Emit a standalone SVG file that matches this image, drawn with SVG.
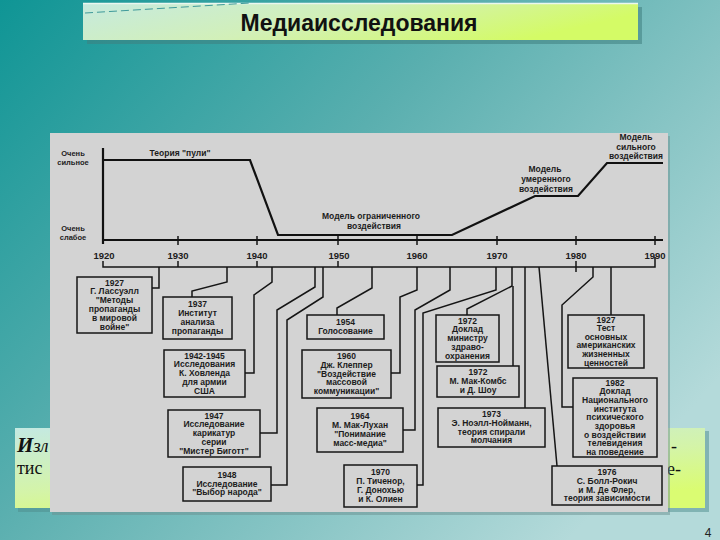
<svg xmlns="http://www.w3.org/2000/svg" width="720" height="540" viewBox="0 0 720 540">
<defs>
<linearGradient id="bg" x1="0" y1="0" x2="1" y2="0.7">
<stop offset="0" stop-color="#0f9595"/>
<stop offset="0.45" stop-color="#5aafaf"/>
<stop offset="1" stop-color="#b4dada"/>
</linearGradient>
<linearGradient id="tg" x1="0" y1="0" x2="1" y2="0.3">
<stop offset="0" stop-color="#c6eadf"/>
<stop offset="0.5" stop-color="#d2f0b8"/>
<stop offset="1" stop-color="#d4fb66"/>
</linearGradient>
<linearGradient id="gg" x1="0" y1="0" x2="0.6" y2="1">
<stop offset="0" stop-color="#c4e9e2"/>
<stop offset="0.6" stop-color="#d4f4a8"/>
<stop offset="1" stop-color="#dafc72"/>
</linearGradient>
<style>
.ln{fill:none;stroke:#151515;stroke-width:1.5;stroke-linejoin:miter}
.cl{fill:none;stroke:#111;stroke-width:2.2}
.bx{fill:none;stroke:#161616;stroke-width:1.5}
.t{font-family:"Liberation Sans",Arial,sans-serif;font-size:8.5px;font-weight:700;fill:#1c1c1c;text-anchor:middle}
.yr{font-family:"Liberation Sans",Arial,sans-serif;font-size:9.5px;font-weight:700;fill:#1c1c1c;text-anchor:middle}
.lb{font-family:"Liberation Sans",Arial,sans-serif;font-size:8.5px;font-weight:700;fill:#1c1c1c;text-anchor:middle}
.ys{font-family:"Liberation Sans",Arial,sans-serif;font-size:7.5px;font-weight:700;fill:#1c1c1c;text-anchor:middle}
.sv{font-family:"Liberation Serif","Times New Roman",serif;fill:#111}
</style>
</defs>
<rect width="720" height="540" fill="url(#bg)"/>

<!-- title -->
<g id="title">
<rect x="87" y="7" width="555" height="37" fill="#3f7f80" opacity="0.55"/>
<rect x="83" y="3" width="555" height="37" fill="url(#tg)"/>
<line x1="83" y1="3.5" x2="638" y2="3.5" stroke="#eaf7f0" stroke-width="1.5"/>
<line x1="85" y1="13" x2="250" y2="3" stroke="#3f9a9a" stroke-width="1" stroke-dasharray="8,4"/>
<text x="359" y="31" font-family="'Liberation Sans',Arial,sans-serif" font-size="23" font-weight="700" fill="#111" text-anchor="middle">Медиаисследования</text>
</g>

<!-- text box behind the picture -->
<g id="textbox">
<rect x="18" y="431" width="691" height="81" fill="#4d8c8c" opacity="0.5"/>
<rect x="15" y="428" width="690" height="80" fill="url(#gg)"/>
<text x="17" y="452" class="sv" font-size="21" font-style="italic" font-weight="700">И<tspan font-size="19" font-weight="400">зл</tspan></text>
<text x="17" y="474" class="sv" font-size="18">тис</text>
<text x="671" y="452" class="sv" font-size="18">-</text>
<text x="667" y="475" class="sv" font-size="18">е-</text>
</g>

<!-- picture panel -->
<rect x="52" y="136" width="618" height="379" fill="#6c8f8f" opacity="0.5"/>
<rect x="50" y="133" width="618" height="379" fill="#d3d3d3"/>

<!-- chart -->
<g id="chart">
<line x1="103" y1="148" x2="103" y2="244" class="cl"/>
<line x1="103" y1="240" x2="663" y2="240" class="cl"/>
<polyline points="103,160 250,160 278,235 452,235 535,196 578,196 607,163 663,163" class="cl"/>
<g class="ln">
<line x1="178" y1="236" x2="178" y2="245"/>
<line x1="257" y1="236" x2="257" y2="245"/>
<line x1="338" y1="236" x2="338" y2="245"/>
<line x1="417" y1="236" x2="417" y2="245"/>
<line x1="497" y1="236" x2="497" y2="245"/>
<line x1="576" y1="236" x2="576" y2="245"/>
<line x1="655" y1="236" x2="655" y2="245"/>
</g>
<text class="ys" x="73" y="156">Очень</text>
<text class="ys" x="73" y="165">сильное</text>
<text class="ys" x="73" y="231">Очень</text>
<text class="ys" x="73" y="240">слабое</text>
<text class="lb" x="180" y="156">Теория "пули"</text>
<text class="lb" x="371" y="219">Модель ограниченного</text>
<text class="lb" x="374" y="229">воздействия</text>
<text class="lb" x="545" y="172">Модель</text>
<text class="lb" x="546" y="182">умеренного</text>
<text class="lb" x="546" y="191.5">воздействия</text>
<text class="lb" x="636" y="140">Модель</text>
<text class="lb" x="636" y="149.5">сильного</text>
<text class="lb" x="636" y="159">воздействия</text>
<text class="yr" x="104" y="259">1920</text>
<text class="yr" x="178" y="259">1930</text>
<text class="yr" x="257" y="259">1940</text>
<text class="yr" x="339" y="259">1950</text>
<text class="yr" x="417" y="259">1960</text>
<text class="yr" x="497" y="259">1970</text>
<text class="yr" x="576" y="259">1980</text>
<text class="yr" x="655" y="259">1990</text>
</g>

<!-- connectors -->
<g id="connectors" class="ln">
<polyline points="103,261 103,267 655,267 655,257"/>
<line x1="178" y1="261" x2="178" y2="267"/>
<line x1="257" y1="261" x2="257" y2="267"/>
<line x1="338" y1="261" x2="338" y2="267"/>
<line x1="576" y1="261" x2="576" y2="272"/>
<polyline points="159,267 159,288 152,288"/>
<polyline points="227,267 227,282 192,291 192,297"/>
<polyline points="272,267 272,282 254,295 254,373 245,373"/>
<polyline points="315,267 315,287 277,310 277,433 260,433"/>
<polyline points="323,267 323,297 287,320 287,485 271,485"/>
<polyline points="372,267 372,288 337,308 337,315"/>
<polyline points="417,267 417,290 400,297 400,373 391,373"/>
<polyline points="450,267 450,290 415,310 415,430 403,430"/>
<polyline points="496,267 496,290 423,313 423,485 417,485"/>
<polyline points="512,267 512,286 467,309 467,315"/>
<polyline points="513,286 513,366"/>
<polyline points="525,267 525,408"/>
<polyline points="539,267 557,466"/>
<polyline points="593,267 593,277 562,305 562,407 573,407"/>
<polyline points="611,267 611,315"/>
</g>

<g id="n1927"><rect class="bx" x="77" y="277" width="75" height="56"/>
<text class="t" x="114.5" y="285.5">1927<tspan x="114.5" dy="8.8">Г. Лассуэлл</tspan><tspan x="114.5" dy="8.8">"Методы</tspan><tspan x="114.5" dy="8.8">пропаганды</tspan><tspan x="114.5" dy="8.8">в мировой</tspan><tspan x="114.5" dy="8.8">войне"</tspan></text></g>

<g id="n1937"><rect class="bx" x="163" y="297" width="69" height="42"/>
<text class="t" x="197.5" y="307.4">1937<tspan x="197.5" dy="8.8">Институт</tspan><tspan x="197.5" dy="8.8">анализа</tspan><tspan x="197.5" dy="8.8">пропаганды</tspan></text></g>

<g id="n1942"><rect class="bx" x="164" y="350" width="81" height="47"/>
<text class="t" x="204.5" y="358.5">1942-1945<tspan x="204.5" dy="8.8">Исследования</tspan><tspan x="204.5" dy="8.8">К. Ховленда</tspan><tspan x="204.5" dy="8.8">для армии</tspan><tspan x="204.5" dy="8.8">США</tspan></text></g>

<g id="n1947"><rect class="bx" x="168" y="410" width="92" height="47"/>
<text class="t" x="214" y="418.5">1947<tspan x="214" dy="8.8">Исследование</tspan><tspan x="214" dy="8.8">карикатур</tspan><tspan x="214" dy="8.8">серии</tspan><tspan x="214" dy="8.8">"Мистер Биготт"</tspan></text></g>

<g id="n1948"><rect class="bx" x="183" y="467" width="88" height="34"/>
<text class="t" x="227" y="477.8">1948<tspan x="227" dy="8.8">Исследование</tspan><tspan x="227" dy="8.8">"Выбор народа"</tspan></text></g>

<g id="n1954"><rect class="bx" x="307" y="315" width="77" height="24"/>
<text class="t" x="345.5" y="325.2">1954<tspan x="345.5" dy="8.8">Голосование</tspan></text></g>

<g id="n1960"><rect class="bx" x="302" y="350" width="89" height="48"/>
<text class="t" x="346.5" y="359">1960<tspan x="346.5" dy="8.8">Дж. Клеппер</tspan><tspan x="346.5" dy="8.8">"Воздействие</tspan><tspan x="346.5" dy="8.8">массовой</tspan><tspan x="346.5" dy="8.8">коммуникации"</tspan></text></g>

<g id="n1964"><rect class="bx" x="317" y="408" width="86" height="44"/>
<text class="t" x="360" y="419.4">1964<tspan x="360" dy="8.8">М. Мак-Лухан</tspan><tspan x="360" dy="8.8">"Понимание</tspan><tspan x="360" dy="8.8">масс-медиа"</tspan></text></g>

<g id="n1970"><rect class="bx" x="344" y="465" width="73" height="42"/>
<text class="t" x="380.5" y="475.4">1970<tspan x="380.5" dy="8.8">П. Тиченор,</tspan><tspan x="380.5" dy="8.8">Г. Донохью</tspan><tspan x="380.5" dy="8.8">и К. Олиен</tspan></text></g>

<g id="n1972a"><rect class="bx" x="436" y="315" width="63" height="47"/>
<text class="t" x="467.5" y="323.5">1972<tspan x="467.5" dy="8.8">Доклад</tspan><tspan x="467.5" dy="8.8">министру</tspan><tspan x="467.5" dy="8.8">здраво-</tspan><tspan x="467.5" dy="8.8">охранения</tspan></text></g>

<g id="n1972b"><rect class="bx" x="437" y="366" width="82" height="31"/>
<text class="t" x="478" y="375.3">1972<tspan x="478" dy="8.8">М. Мак-Комбс</tspan><tspan x="478" dy="8.8">и Д. Шоу</tspan></text></g>

<g id="n1973"><rect class="bx" x="438" y="408" width="107" height="39"/>
<text class="t" x="491.5" y="416.9">1973<tspan x="491.5" dy="8.8">Э. Ноэлл-Нойманн,</tspan><tspan x="491.5" dy="8.8">теория спирали</tspan><tspan x="491.5" dy="8.8">молчания</tspan></text></g>

<g id="n1927t"><rect class="bx" x="568" y="315" width="76" height="53"/>
<text class="t" x="606" y="322.5">1927<tspan x="606" dy="8.6">Тест</tspan><tspan x="606" dy="8.6">основных</tspan><tspan x="606" dy="8.6">американских</tspan><tspan x="606" dy="8.6">жизненных</tspan><tspan x="606" dy="8.6">ценностей</tspan></text></g>

<g id="n1982"><rect class="bx" x="573" y="378" width="84" height="79"/>
<text class="t" x="615" y="385.5">1982<tspan x="615" dy="8.7">Доклад</tspan><tspan x="615" dy="8.7">Национального</tspan><tspan x="615" dy="8.7">института</tspan><tspan x="615" dy="8.7">психического</tspan><tspan x="615" dy="8.7">здоровья</tspan><tspan x="615" dy="8.7">о воздействии</tspan><tspan x="615" dy="8.7">телевидения</tspan><tspan x="615" dy="8.7">на поведение</tspan></text></g>

<g id="n1976"><rect class="bx" x="552" y="466" width="110" height="39"/>
<text class="t" x="607" y="474.9">1976<tspan x="607" dy="8.8">С. Болл-Рокич</tspan><tspan x="607" dy="8.8">и М. Де Флер,</tspan><tspan x="607" dy="8.8">теория зависимости</tspan></text></g>

<text x="708" y="537" font-family="'Liberation Sans',Arial,sans-serif" font-size="12" fill="#222" text-anchor="middle">4</text>
</svg>
